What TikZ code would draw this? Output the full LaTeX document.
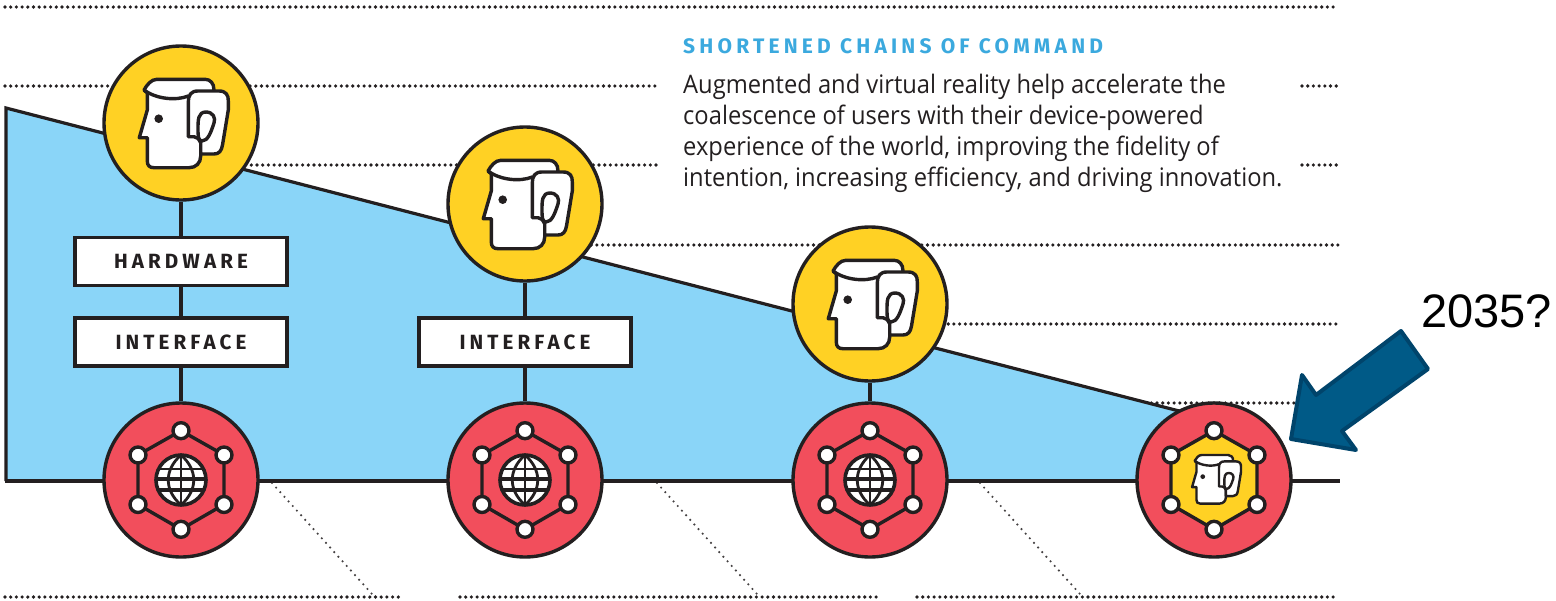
\documentclass[tikz,border=0pt]{standalone}
\usepackage{fontspec}
\setmainfont{Liberation Sans}
\newfontfamily\bodyfont{Open Sans}[FakeStretch=0.93]
\newfontfamily\capsfont{Fira Sans}[LetterSpace=20,UprightFont=* Bold]
\definecolor{ink}{HTML}{231F20}
\definecolor{skyfill}{HTML}{8AD5F8}
\definecolor{sunfill}{HTML}{FFD124}
\definecolor{redfill}{HTML}{F24E5C}
\definecolor{arrowfill}{HTML}{005A87}
\definecolor{arrowline}{HTML}{00446B}
\definecolor{headblue}{HTML}{3BA9DE}
\tikzset{
  x=1pt,y=-1pt,
  bigdots/.style={ink,line width=3.6pt,line cap=round,dash pattern=on 0pt off 5.7pt},
  smalldots/.style={ink!85,line width=2.4pt,line cap=round,dash pattern=on 0pt off 6.2pt},
  rule/.style={ink,line width=3.2pt},
  disc/.style={circle,draw=ink,line width=3.4pt,minimum size=154pt,inner sep=0pt},
  yellowdisc/.style={disc,fill=sunfill},
  reddisc/.style={disc,fill=redfill},
  labelbox/.style={draw=ink,line width=3.8pt,fill=white,minimum width=212pt,minimum height=48pt,inner sep=0pt,
    font=\capsfont\fontsize{20.6}{20.6}\selectfont,text=ink},
  headicon/.pic={
    \begin{scope}[draw=ink,fill=white,line join=round]
      \path[draw,fill,line width=#1]
        (-33.7,-30) -- (-33.7,-13) -- (-41.7,14.7) -- (-33.7,14.7) -- (-33.7,38)
        .. controls (-33.7,42.5) and (-31.5,44.7) .. (-27,44.7)
        -- (8,44.7) .. controls (15,44.7) and (19.7,40) .. (19.7,33)
        -- (19.7,12) -- (33,-20) -- (33,-33)
        .. controls (33,-40) and (29,-43.7) .. (24,-43.7)
        -- (-24,-43.7) .. controls (-30,-43.7) and (-34,-38) .. (-37,-33) -- cycle;
      \path[draw,line width=#1]
        (-37,-33) .. controls (-25,-24) and (-5,-22) .. (7.3,-27);
      \path[draw,fill,line width=#1]
        (7.3,13.7) -- (7.3,-21) .. controls (7.3,-28) and (10,-32) .. (17,-32)
        -- (38,-32) .. controls (45,-32) and (47.5,-28) .. (47.3,-22)
        -- (47.3,-13) -- (41.5,22) .. controls (40.5,28) and (38,31) .. (33,31)
        -- (19.7,31) -- (19.7,20) .. controls (18,16) and (16,13.7) .. (13,13.7) -- cycle;
      \path[draw,fill,line width=#1]
        (25,-11) .. controls (32,-11) and (35,-5) .. (33,0)
        .. controls (30,9) and (27,18) .. (21,18)
        .. controls (17,18) and (17,12) .. (17,6)
        .. controls (17,-3) and (17,-11) .. (25,-11) -- cycle;
      \fill[ink] (-22.3,-4.3) circle[radius=4.3pt];
    \end{scope}
  },
  hexnet/.pic={
    \path[draw=ink,fill=#1,line width=3.4pt,line join=round]
      (0,-49.3) -- (43,-25) -- (43,24.5) -- (0,49.3) -- (-43,24.5) -- (-43,-25) -- cycle;
    \foreach \px/\py in {0/-49.3,43/-25,43/24.5,0/49.3,-43/24.5,-43/-25}
      \path[draw=ink,fill=white,line width=3.4pt] (\px,\py) circle[radius=8pt];
  },
  globeicon/.pic={
    \begin{scope}
      \clip (0,0) circle[radius=25pt];
      \fill[white] (-25,-25) rectangle (25,25);
      \draw[ink,line width=2.6pt] (0,-25) -- (0,25);
      \draw[ink,line width=2.8pt] (0,-25) .. controls (-17,-10) and (-17,10) .. (0,25);
      \draw[ink,line width=2.8pt] (0,-25) .. controls (17,-10) and (17,10) .. (0,25);
      \draw[ink,line width=2.6pt] (-25,-11) -- (25,-11);
      \draw[ink,line width=3.6pt] (-25,-1) -- (25,-1);
      \draw[ink,line width=3.6pt] (-25,10) -- (25,10);
    \end{scope}
    \draw[ink,line width=3.6pt] (0,0) circle[radius=25pt];
  }
}
\begin{document}
\begin{tikzpicture}
\useasboundingbox (0,0) rectangle (1556,600);

% dotted rules
\draw[bigdots] (5,7) -- (1338,7);
\draw[bigdots] (5,86) -- (660,86);
\draw[bigdots] (1302,86) -- (1338,86);
\draw[bigdots] (200,165) -- (660,165);
\draw[bigdots] (1302,165) -- (1338,165);
\draw[bigdots] (500,245) -- (1338,245);
\draw[bigdots] (800,324) -- (1338,324);
\draw[bigdots] (1100,403) -- (1295,403);
\draw[bigdots] (5,597) -- (400,597);
\draw[bigdots] (460,597) -- (880,597);
\draw[bigdots] (917,597) -- (1338,597);

% blue wedge
\path[fill=skyfill] (6,108) -- (1214,420) -- (1214,481) -- (6,481) -- cycle;
\draw[ink,line width=3.2pt,line join=miter] (6,481) -- (6,108) -- (1214,420);

% shallow dotted diagonals
\draw[smalldots] (272,483) -- (372,594);
\draw[smalldots] (657,483) -- (757,594);
\draw[smalldots] (980,483) -- (1080,594);

% baseline
\coordinate (baseL) at (5,481);
\coordinate (baseR) at (1340,481);
\draw[rule] (baseL) -- (baseR);

% nodes
\node[yellowdisc] (p1) at (181,123) {};
\node[yellowdisc] (p2) at (525,204) {};
\node[yellowdisc] (p3) at (870,304) {};
\node[reddisc] (n1) at (181,480) {};
\node[reddisc] (n2) at (525,480) {};
\node[reddisc] (n3) at (870,480) {};
\node[reddisc] (n4) at (1214,480) {};
\node[labelbox] (hw) at (181,261.5) {HARDWARE};
\node[labelbox] (if1) at (181,342) {INTERFACE};
\node[labelbox] (if2) at (525,342) {INTERFACE};

% connectors
\draw[rule] (p1) -- (hw);
\draw[rule] (hw) -- (if1);
\draw[rule] (if1) -- (n1);
\draw[rule] (p2) -- (if2);
\draw[rule] (if2) -- (n2);
\draw[rule] (p3) -- (n3);

% icons
\pic at (181,123) {headicon={3.4pt}};
\pic at (525,204) {headicon={3.4pt}};
\pic at (870,304) {headicon={3.4pt}};
\pic at (181,480) {hexnet={redfill}};
\pic at (525,480) {hexnet={redfill}};
\pic at (870,480) {hexnet={redfill}};
\pic at (1214,480) {hexnet={sunfill}};
\pic at (181,480) {globeicon};
\pic at (525,480) {globeicon};
\pic at (870,480) {globeicon};
\pic[scale=0.55] at (1215,479) {headicon={2.4pt}};

% text
\node[anchor=base west,inner sep=0pt,text=headblue,font=\capsfont\fontsize{21}{21}\selectfont] (ttl) at (683,53) {SHORTENED CHAINS OF COMMAND};
\node[anchor=north west,inner sep=0pt,align=left,text=ink,font=\bodyfont\fontsize{25.5}{31}\selectfont] (body) at (683,74)
  {Augmented and virtual reality help accelerate the\\
   coalescence of users with their device-powered\\
   experience of the world, improving the fidelity of\\
   intention, increasing efficiency, and driving innovation.};

% big arrow
\path[fill=arrowfill,draw=arrowline,line width=4pt,line join=round]
  (1291,439) -- (1302,375) -- (1316,395) -- (1401,331) -- (1428,369)
  -- (1342,431) -- (1356,450) -- cycle;
\node[anchor=base west,inner sep=0pt,text=black,font=\fontsize{47}{47}\selectfont] (yr) at (1421,327) {2035?};
\end{tikzpicture}
\end{document}
